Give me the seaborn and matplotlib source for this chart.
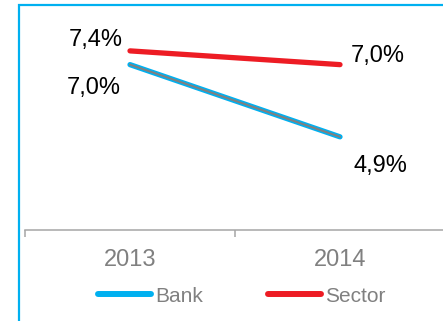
import matplotlib
matplotlib.use("Agg")
import matplotlib.pyplot as plt
from matplotlib.patches import Rectangle
from matplotlib.ticker import FixedLocator
import pandas as pd
import seaborn as sns

# Data
years = ["2013", "2014"]
bank = [7.0, 4.9]
sector = [7.4, 7.0]
series_names = ["Bank", "Sector"]
colors = {"Bank": "#00B0F0", "Sector": "#ED1C24"}

df = pd.DataFrame({
    "year": years * 2,
    "value": bank + sector,
    "series": [series_names[0]] * len(years) + [series_names[1]] * len(years),
})

sns.set_style("white")
plt.rcParams["font.family"] = ["Liberation Sans", "DejaVu Sans"]

W, H = 443, 321
fig = plt.figure(figsize=(W / 100, H / 100), dpi=100)
# axes spans x 25..445 px, y 0..230 px from top
ax = fig.add_axes([25 / W, (H - 230) / H, 420 / W, 230 / H])

sns.lineplot(data=df, x="year", y="value", hue="series", palette=colors,
             linewidth=3.8, solid_capstyle="round", ax=ax, sort=False)
# thin grey core on the Bank line
sns.lineplot(data=df[df["series"] == "Bank"], x="year", y="value",
             color="#808080", linewidth=1.5, solid_capstyle="round",
             ax=ax, legend=False, sort=False)

ax.set_xlim(-0.5, 1.5)
ax.set_ylim(2.19, 8.88)
ax.set_xlabel("")
ax.set_ylabel("")
ax.set_yticks([])

for s in ["top", "left", "right"]:
    ax.spines[s].set_visible(False)
ax.spines["bottom"].set_color("#A6A6A6")
ax.spines["bottom"].set_linewidth(1.1)

ax.xaxis.set_minor_locator(FixedLocator([-0.5, 0.5, 1.5]))
ax.tick_params(axis="x", which="major", length=0, labelsize=17,
               labelcolor="#808080", pad=14)
ax.tick_params(axis="x", which="minor", length=5, width=1.1,
               color="#A6A6A6", direction="out", bottom=True)

# value labels (offsets in points)
def fmt(v):
    return f"{v:.1f}%".replace(".", ",")

offsets = {
    ("Sector", 0): (-25, 3.5),
    ("Bank", 0): (-26, -21),
    ("Sector", 1): (27, 2),
    ("Bank", 1): (29, -25),
}
for name, vals in (("Bank", bank), ("Sector", sector)):
    for i, v in enumerate(vals):
        dx, dy = offsets[(name, i)]
        ax.annotate(fmt(v), xy=(i, v), xytext=(dx, dy),
                    textcoords="offset points", ha="center", va="baseline",
                    fontsize=17, color="black")

handles, labels = ax.get_legend_handles_labels()
leg = fig.legend(handles, labels, loc="center left",
                 bbox_to_anchor=(98 / W, (H - 296) / H), ncol=2,
                 frameon=False, fontsize=15, handlelength=2.55,
                 handletextpad=0.2, columnspacing=3.1,
                 borderpad=0, borderaxespad=0)
for line in leg.get_lines():
    line.set_linewidth(4.3)
    line.set_solid_capstyle("round")
for t in leg.get_texts():
    t.set_color("#808080")
if ax.get_legend() is not None:
    ax.get_legend().remove()

# frame edge
fig.patches.append(Rectangle((18.5 / W, -0.5), 2.0, (H - 5) / H + 0.5,
                             transform=fig.transFigure, fill=False,
                             edgecolor="#00B0F0", linewidth=1.6))

fig.savefig("out.png", dpi=100)
